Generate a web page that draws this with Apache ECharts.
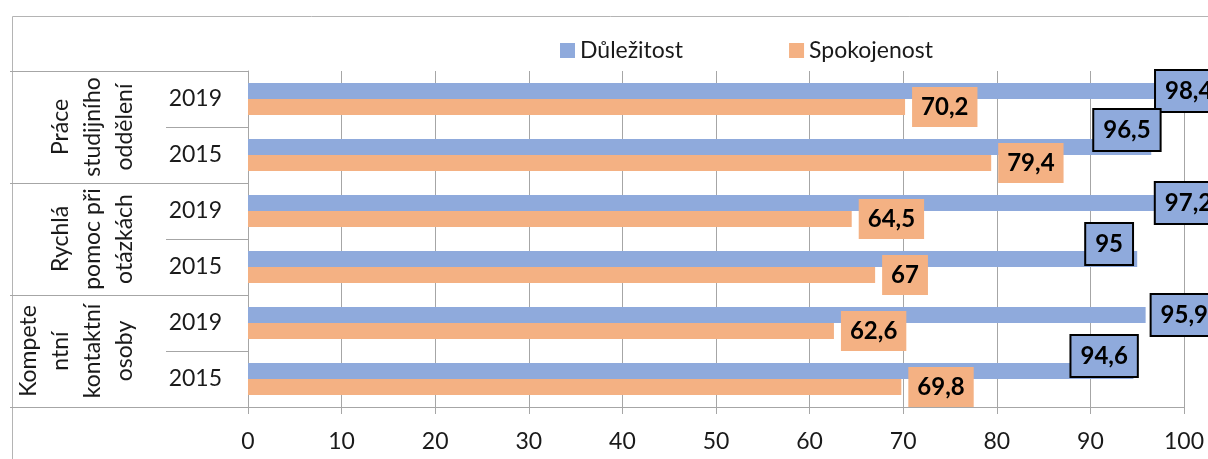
<!DOCTYPE html>
<html><head><meta charset="utf-8">
<script src="https://cdn.jsdelivr.net/npm/echarts@6/dist/echarts.min.js"></script>
<style>html,body{margin:0;padding:0;background:#fff}#c{width:1208px;height:459px}</style>
</head><body><div id="c"></div>
<script>
// ---- data ----
const years = ['2019', '2015', '2019', '2015', '2019', '2015'];
const groups = ['Práce\nstudijního\noddělení', 'Rychlá\npomoc při\notázkách', 'Kompete\nntní\nkontaktní\nosoby'];
const seriesNames = ['Důležitost', 'Spokojenost'];
const importance = [98.4, 96.5, 97.2, 95, 95.9, 94.6];
const satisfaction = [70.2, 79.4, 64.5, 67, 62.6, 69.8];

// ---- presentation ----
const BLUE = '#8FAADC', ORANGE = '#F4B183', GRID = '#a6a6a6';
const FONT = 'Lato';
// manual label nudges (as in the source chart), per row
const blueNudge = [[-13, 0], [-57, -17], [-2, 0], [-51, -15], [6, 0], [-62, -15]];
const fmt = p => String(p.value).replace('.', ',');
const baseLabel = {
  show: true, position: 'right', formatter: fmt, fontFamily: FONT,
  fontSize: 24, fontWeight: 'bold', color: '#000', lineHeight: 27, padding: [7, 9, 6, 9]
};

const chart = echarts.init(document.getElementById('c'));
chart.setOption({
  animation: false,
  textStyle: { fontFamily: FONT },
  graphic: [{
    type: 'rect', left: 10, top: 14, z: -10, silent: true,
    shape: { width: 1300, height: 600 },
    style: { fill: 'none', stroke: '#b4b4b4', lineWidth: 1 }
  }],
  legend: {
    data: seriesNames, left: 555, top: 34, itemWidth: 15, itemHeight: 15, itemGap: 106,
    icon: 'rect', textStyle: { fontSize: 23, color: '#1a1a1a', fontFamily: FONT }
  },
  grid: { left: 248, right: 24, top: 71, bottom: 52, containLabel: false },
  xAxis: {
    type: 'value', min: 0, max: 100, interval: 10,
    axisLine: { show: true, lineStyle: { color: GRID } },
    axisTick: { show: true, length: 7, lineStyle: { color: GRID } },
    splitLine: { show: true, lineStyle: { color: GRID } },
    axisLabel: { fontSize: 23, color: '#1a1a1a', margin: 23, fontFamily: FONT }
  },
  yAxis: [{
    type: 'category', inverse: true, position: 'left', data: years,
    axisLine: { show: true, lineStyle: { color: GRID } },
    axisTick: { show: true, interval: 0, length: 82, lineStyle: { color: GRID } },
    axisLabel: { interval: 0, fontSize: 23, color: '#1a1a1a', margin: 26, fontFamily: FONT }
  }, {
    type: 'category', inverse: true, position: 'left', data: groups,
    axisLine: { show: false },
    axisTick: { show: true, interval: 0, length: 238, lineStyle: { color: GRID } },
    axisLabel: { interval: 0, hideOverlap: false, rotate: 90, fontSize: 23, lineHeight: 32, color: '#1a1a1a', margin: 107, fontFamily: FONT }
  }],
  series: [{
    name: seriesNames[0], type: 'bar', yAxisIndex: 0, barGap: '0%', barCategoryGap: '43%',
    itemStyle: { color: BLUE },
    label: Object.assign({}, baseLabel, { distance: 0, backgroundColor: BLUE, borderColor: '#000', borderWidth: 2 }),
    data: importance.map((v, i) => ({ value: v, label: { offset: blueNudge[i] } })),
    z: 2
  }, {
    name: seriesNames[1], type: 'bar', yAxisIndex: 0, barGap: '0%', barCategoryGap: '43%',
    itemStyle: { color: ORANGE },
    label: Object.assign({}, baseLabel, { distance: 7, backgroundColor: ORANGE }),
    data: satisfaction,
    z: 2
  }]
});
</script>
</body></html>
